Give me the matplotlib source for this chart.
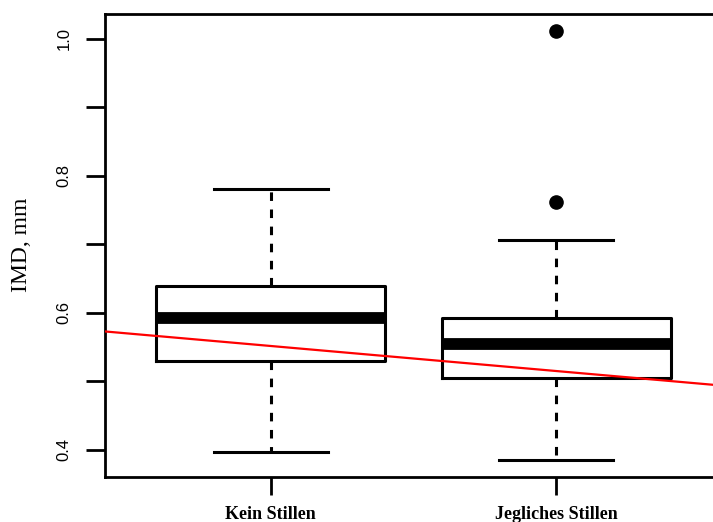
import matplotlib
matplotlib.use("Agg")
import matplotlib.pyplot as plt
import numpy as np

# group labels and box statistics
groups = ["Kein Stillen", "Jegliches Stillen"]
lower_whisker = [0.396, 0.385]
q1 = [0.529, 0.505]
median = [0.592, 0.555]
q3 = [0.639, 0.593]
upper_whisker = [0.781, 0.706]
outliers = [[], [0.762, 1.012]]

# red reference line (abline a + b*x)
line_intercept = 0.588
line_slope = -0.0366

yticks = [0.4, 0.5, 0.6, 0.7, 0.8, 0.9, 1.0]
ytick_labels = ["0.4", "", "0.6", "", "0.8", "", "1.0"]

fig = plt.figure(figsize=(7.13, 5.22), dpi=100)
ax = fig.add_axes([0.1473, 0.0862, 0.8653, 0.8878])

stats = []
for i, g in enumerate(groups):
    stats.append(dict(label=g, whislo=lower_whisker[i], q1=q1[i], med=median[i],
                      q3=q3[i], whishi=upper_whisker[i], fliers=outliers[i]))

ax.bxp(stats, positions=[1, 2], widths=0.8, showfliers=True,
       boxprops=dict(color="black", linewidth=2.2),
       medianprops=dict(color="black", linewidth=8.5, solid_capstyle="butt"),
       whiskerprops=dict(color="black", linewidth=2.2, linestyle=(0, (2.8, 2.8))),
       capprops=dict(color="black", linewidth=2.2),
       capwidths=0.4,
       flierprops=dict(marker="o", markerfacecolor="black", markeredgecolor="black",
                       markersize=9.5, linestyle="none"))

ax.set_xlim(0.42, 2.58)
ax.set_ylim(0.36, 1.037)

xs = np.array([0.42, 2.58])
ax.plot(xs, line_intercept + line_slope * xs, color="red", linewidth=1.6, zorder=3)

ax.set_yticks(yticks)
ax.set_yticklabels(ytick_labels, rotation=90, va="center",
                   family="Liberation Sans", fontsize=12)
ax.set_xticks([1, 2])
ax.set_xticklabels(groups, family="Liberation Serif", fontweight="bold", fontsize=13)
ax.tick_params(axis="y", length=14, width=2, pad=10)
ax.tick_params(axis="x", length=13, width=2, pad=8)
ax.set_ylabel("IMD, mm", family="Liberation Serif", fontsize=17, labelpad=18)

for sp in ax.spines.values():
    sp.set_linewidth(2)

fig.savefig("out.png", dpi=100)
